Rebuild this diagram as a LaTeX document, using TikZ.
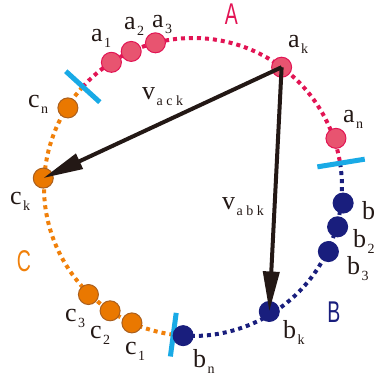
\documentclass[tikz,border=0pt]{standalone}
\usepackage{fontspec}
\setmainfont{Liberation Serif}
\newfontfamily\setfont{Liberation Sans}
\newfontfamily\subfont[LetterSpace=25]{Liberation Serif}
\usetikzlibrary{arrows.meta}

\definecolor{setred}{RGB}{226,20,84}
\definecolor{setredfill}{RGB}{232,84,112}
\definecolor{setblue}{RGB}{25,30,125}
\definecolor{setorange}{RGB}{240,128,10}
\definecolor{setorangefill}{RGB}{234,120,0}
\definecolor{setorangeline}{RGB}{170,95,30}
\definecolor{cutcyan}{RGB}{25,170,230}
\definecolor{vecblack}{RGB}{35,24,21}

% navn med indeks
\newcommand{\lab}[2]{#1\hspace{1.5pt}\raisebox{-6pt}{\fontsize{14}{14}\subfont #2}}

\begin{document}
\begin{tikzpicture}[x=1pt,y=1pt,
  redarc/.style={setred,line width=4pt,dash pattern=on 4pt off 4pt},
  bluearc/.style={setblue,line width=4pt,dash pattern=on 4pt off 4pt},
  orangearc/.style={setorange,line width=4pt,dash pattern=on 4pt off 4pt},
  cut/.style={cutcyan,line width=5pt},
  pt/.style={circle,minimum size=20pt,inner sep=0pt,line width=1pt},
  redpt/.style={pt,draw=setred,fill=setredfill},
  bluept/.style={pt,draw=setblue,fill=setblue},
  orangept/.style={pt,draw=setorangeline,fill=setorangefill},
  lbl/.style={inner sep=0pt,anchor=base west,text=vecblack,font=\fontsize{26}{26}\selectfont},
  setname/.style={inner sep=0pt,xscale=0.65,font=\fontsize{30}{30}\setfont},
  vec/.style={vecblack,line width=4pt,-{Triangle[length=40pt,width=16pt]}}]
  \useasboundingbox (-193,-192) rectangle (187,187);

  % Buer
  \draw[redarc] (137.7:149pt) arc[start angle=137.7,end angle=9.2,radius=149pt];
  \draw[bluearc] (9.2:149pt) arc[start angle=9.2,end angle=-97.6,radius=149pt];
  \draw[orangearc] (262.4:149pt) arc[start angle=262.4,end angle=137.7,radius=149pt];

  % Skillestreger
  \draw[cut] (137.7:126pt) -- (137.7:172pt);
  \draw[cut] (9.2:126pt) -- (9.2:174pt);
  \draw[cut] (262.4:127pt) -- (262.4:171pt);

  % Punkter
  \node[redpt] (a1) at (123.2:149pt) {};
  \node[redpt] (a2) at (114.5:149pt) {};
  \node[redpt] (a3) at (104.6:149pt) {};
  \node[redpt] (ak) at (53.5:149pt) {};
  \node[redpt] (an) at (18.8:151pt) {};
  \node[bluept] (b1) at (-6.1:151pt) {};
  \node[bluept] (b2) at (-15.4:150pt) {};
  \node[bluept] (b3) at (-25.5:150pt) {};
  \node[bluept] (bk) at (-58.5:146pt) {};
  \node[bluept] (bn) at (-93.8:149pt) {};
  \node[orangept] (c1) at (245.8:149pt) {};
  \node[orangept] (c2) at (236.2:149pt) {};
  \node[orangept] (c3) at (225.8:150pt) {};
  \node[orangept] (ck) at (176.6:150pt) {};
  \node[orangept] (cn) at (147.7:148pt) {};

  % Navne
  \node[lbl] at (-102,145) {\lab{a}{1}};
  \node[lbl] at (-69,157) {\lab{a}{2}};
  \node[lbl] at (-41,159) {\lab{a}{3}};
  \node[lbl] at (95,139) {\lab{a}{k}};
  \node[lbl] at (150,64) {\lab{a}{n}};
  \node[lbl] at (169,-33) {b};
  \node[lbl] at (160,-61) {\lab{b}{2}};
  \node[lbl] at (154,-88) {\lab{b}{3}};
  \node[lbl] at (90,-152) {\lab{b}{k}};
  \node[lbl] at (0,-181) {\lab{b}{n}};
  \node[lbl] at (-68,-168) {\lab{c}{1}};
  \node[lbl] at (-103,-152) {\lab{c}{2}};
  \node[lbl] at (-128,-135) {\lab{c}{3}};
  \node[lbl] at (-183,-18) {\lab{c}{k}};
  \node[lbl] at (-165,79) {\lab{c}{n}};
  \node[lbl] at (-51,87) {\lab{v}{ack}};
  \node[lbl] at (29,-23) {\lab{v}{abk}};

  % Mængder
  \node[setname,text=setred] at (38.5,173) {A};
  \node[setname,text=setblue] at (141,-125) {B};
  \node[setname,text=setorange] at (-169,-74) {C};

  % Vektorer
  \draw[vec] (ak.center) -- (ck.center);
  \draw[vec] (ak.center) -- (bk.center);
\end{tikzpicture}
\end{document}
